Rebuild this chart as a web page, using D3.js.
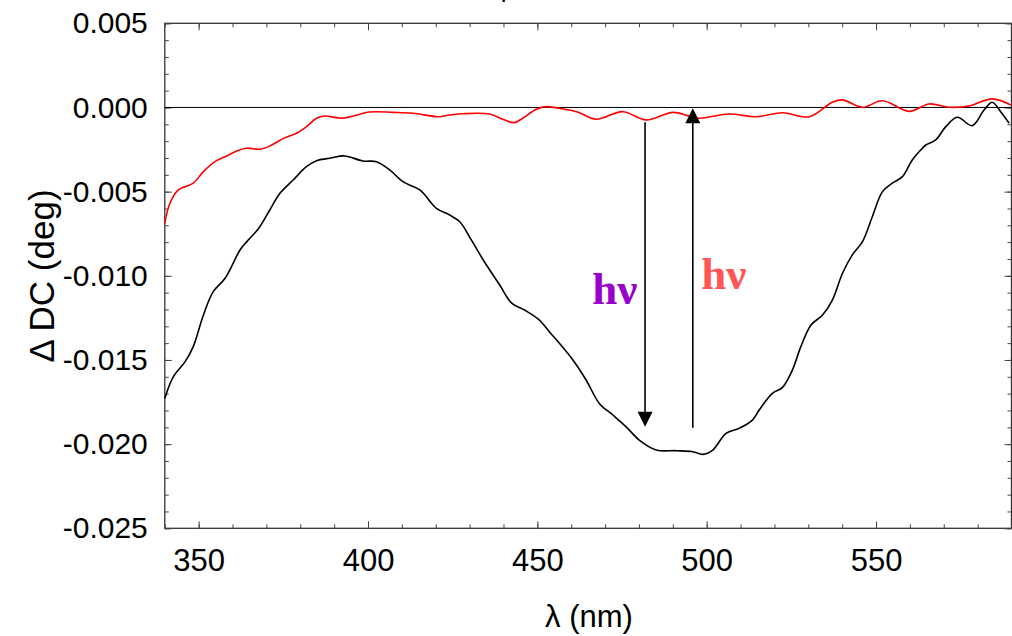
<!DOCTYPE html>
<html>
<head>
<meta charset="utf-8">
<script src="https://cdn.jsdelivr.net/npm/d3@7"></script>
<style>
  body { margin: 0; background: #fff; }
  svg { display: block; }
  .axis text { font-family: "Liberation Sans", Arial, sans-serif; fill: #000; }
  .axis path { display: none; }
  .axis line { stroke: #444; }
</style>
</head>
<body>
<svg id="chart" width="1012" height="636"></svg>
<script>
// wavelength (nm) and ΔDC (deg)
let redX = [340.0, 341.5, 344.0, 346.0, 348.4, 351.4, 354.8, 358.3, 361.2, 364.2, 368.1, 371.0,
    374.9, 378.9, 381.8, 384.8, 387.2, 392.2, 395.6, 400.5, 407.4, 413.3, 420.7, 424.1, 428.0,
    435.9, 439.8, 443.1, 445.7, 449.7, 452.6, 456.5, 460.5, 462.4, 467.4, 475.2, 482.1, 490.0,
    494.9, 497.8, 506.7, 514.5, 522.4, 530.3, 537.1, 540.1, 546.0, 551.9, 559.8, 565.7, 571.6,
    577.5, 584.3, 589.8];
let redY = [-0.00688, -0.00569, -0.00490, -0.00471, -0.00450, -0.00381, -0.00322, -0.00288,
    -0.00258, -0.00242, -0.00248, -0.00229, -0.00185, -0.00153, -0.00114, -0.00064, -0.00051,
    -0.00064, -0.00051, -0.00027, -0.00029, -0.00034, -0.00055, -0.00045, -0.00037, -0.00039,
    -0.00070, -0.00090, -0.00064, -0.00011, 0.00005, -0.00005, -0.00019, -0.00031, -0.00070,
    -0.00025, -0.00074, -0.00029, -0.00051, -0.00064, -0.00039, -0.00055, -0.00031, -0.00055,
    0.00031, 0.00045, 0.00001, 0.00040, -0.00023, 0.00021, 0.00001, 0.00009, 0.00051, 0.00015];

let blackX = [340.0, 342.5, 346.0, 348.4, 351.4, 354.3, 357.8, 362.2, 364.2, 367.8, 371.0, 374.0,
    377.9, 381.8, 384.8, 388.7, 393.1, 398.5, 402.5, 406.4, 410.3, 415.3, 420.2, 424.1, 427.1,
    430.5, 434.4, 438.9, 442.4, 446.2, 450.6, 453.6, 456.5, 460.5, 464.4, 468.3, 472.3, 476.2,
    480.1, 485.1, 491.0, 495.9, 498.8, 501.8, 505.7, 509.6, 513.5, 515.5, 519.4, 522.4, 525.3,
    527.8, 530.8, 534.2, 537.1, 540.1, 543.0, 546.0, 548.9, 551.9, 554.8, 557.8, 560.7, 563.2,
    564.7, 567.6, 570.6, 574.0, 578.4, 581.9, 584.3, 586.8, 589.3];
let blackY = [-0.01728, -0.01600, -0.01510, -0.01421, -0.01233, -0.01094, -0.01015, -0.00847,
    -0.00797, -0.00716, -0.00609, -0.00510, -0.00431, -0.00352, -0.00316, -0.00302, -0.00288,
    -0.00318, -0.00322, -0.00371, -0.00441, -0.00490, -0.00599, -0.00639, -0.00679, -0.00787,
    -0.00918, -0.01055, -0.01162, -0.01203, -0.01263, -0.01334, -0.01401, -0.01500, -0.01619,
    -0.01758, -0.01827, -0.01897, -0.01976, -0.02035, -0.02039, -0.02045, -0.02061, -0.02035,
    -0.01936, -0.01906, -0.01857, -0.01797, -0.01698, -0.01663, -0.01560, -0.01421, -0.01292,
    -0.01233, -0.01144, -0.00985, -0.00876, -0.00797, -0.00649, -0.00500, -0.00450, -0.00411,
    -0.00312, -0.00253, -0.00223, -0.00193, -0.00114, -0.00058, -0.00108, -0.00015, 0.00031,
    -0.00025, -0.00094];

let xMajor = [350, 400, 450, 500, 550];
let xMinor = d3.range(340, 591, 10);
let yMajor = [0.005, 0, -0.005, -0.01, -0.015, -0.02, -0.025];
let yMinor = d3.range(-25, 6, 1).map(v => v / 1000);

// the two hν arrows: x, start value, tip value
let arrows = [
    {x: 481.8, from: -0.00088, to: -0.01896},
    {x: 495.9, from: -0.01902, to: -0.00005}
];
let labels = [
    {x: 466.2, y: -0.01165, text: "hν", color: "#9900cc"},
    {x: 498.4, y: -0.01078, text: "hν", color: "#ff5555"}
];

let svg = d3.select("#chart");
let pLeft = 164.8, pRight = 1011.5, pTop = 23.3, pBottom = 528.3;

// plain hyphen for negatives, like the original
let fmt = d3.formatLocale({decimal: ".", thousands: ",", grouping: [3], currency: ["", ""], minus: "-"});

let x = d3.scaleLinear().domain([340, 590]).range([pLeft, pRight]);
let y = d3.scaleLinear().domain([-0.025, 0.005]).range([pBottom, pTop]);

// frame
svg.append("rect")
    .attr("x", pLeft).attr("y", pTop)
    .attr("width", pRight - pLeft).attr("height", pBottom - pTop)
    .style("fill", "none").style("stroke", "#333").style("stroke-width", 1.3);

// minor ticks on all sides
svg.append("g").attr("class", "axis").attr("transform", "translate(0," + pBottom + ")")
    .call(d3.axisBottom(x).tickValues(xMinor).tickSize(-4).tickFormat(""));
svg.append("g").attr("class", "axis").attr("transform", "translate(0," + pTop + ")")
    .call(d3.axisTop(x).tickValues(xMinor).tickSize(-4).tickFormat(""));
svg.append("g").attr("class", "axis").attr("transform", "translate(" + pLeft + ",0)")
    .call(d3.axisLeft(y).tickValues(yMinor).tickSize(-4).tickFormat(""));
svg.append("g").attr("class", "axis").attr("transform", "translate(" + pRight + ",0)")
    .call(d3.axisRight(y).tickValues(yMinor).tickSize(-4).tickFormat(""));

// major ticks + labels
let xb = svg.append("g").attr("class", "axis").attr("transform", "translate(0," + pBottom + ")")
    .call(d3.axisBottom(x).tickValues(xMajor).tickSize(-7).tickPadding(21).tickFormat(fmt.format("d")));
xb.selectAll("text").style("font-size", "31px");
svg.append("g").attr("class", "axis").attr("transform", "translate(0," + pTop + ")")
    .call(d3.axisTop(x).tickValues(xMajor).tickSize(-7).tickFormat(""));
let yl = svg.append("g").attr("class", "axis").attr("transform", "translate(" + pLeft + ",0)")
    .call(d3.axisLeft(y).tickValues(yMajor).tickSize(-7).tickPadding(17).tickFormat(fmt.format(".3f")));
yl.selectAll("text").style("font-size", "30px");
svg.append("g").attr("class", "axis").attr("transform", "translate(" + pRight + ",0)")
    .call(d3.axisRight(y).tickValues(yMajor).tickSize(-7).tickFormat(""));

// zero line
svg.append("line")
    .attr("x1", pLeft).attr("x2", pRight)
    .attr("y1", y(0)).attr("y2", y(0))
    .style("stroke", "#000").style("stroke-width", 1);

let line = d3.line()
    .x(d => x(d[0]))
    .y(d => y(d[1]))
    .curve(d3.curveCatmullRom.alpha(0.5));

svg.append("path")
    .datum(blackX.map((v, i) => [v, blackY[i]]))
    .attr("d", line)
    .style("fill", "none").style("stroke", "#000").style("stroke-width", 1.6);

svg.append("path")
    .datum(redX.map((v, i) => [v, redY[i]]))
    .attr("d", line)
    .style("fill", "none").style("stroke", "#ff0000").style("stroke-width", 1.6);

// arrows
for (let a of arrows) {
    let ax = x(a.x), y0 = y(a.from), y1 = y(a.to);
    let dir = y1 > y0 ? 1 : -1;
    svg.append("line")
        .attr("x1", ax).attr("x2", ax)
        .attr("y1", y0).attr("y2", y1 - dir * 10)
        .style("stroke", "#000").style("stroke-width", 1.6);
    svg.append("path")
        .attr("d", "M" + ax + "," + y1 + " L" + (ax - 7.5) + "," + (y1 - dir * 15)
            + " L" + (ax + 7.5) + "," + (y1 - dir * 15) + " Z")
        .style("fill", "#000");
}

svg.selectAll("text.hv")
    .data(labels)
    .enter()
    .append("text")
    .attr("class", "hv")
    .attr("x", d => x(d.x))
    .attr("y", d => y(d.y))
    .style("font-family", "'Liberation Serif', 'Times New Roman', serif")
    .style("font-weight", "bold")
    .style("font-size", "45px")
    .style("fill", d => d.color)
    .text(d => d.text);

// axis titles
svg.append("text")
    .attr("x", 589).attr("y", 627)
    .attr("text-anchor", "middle")
    .style("font-family", "'Liberation Sans', Arial, sans-serif")
    .style("font-size", "31px")
    .text("λ (nm)");

svg.append("text")
    .attr("transform", "translate(54,276) rotate(-90)")
    .attr("text-anchor", "middle")
    .style("font-family", "'Liberation Sans', Arial, sans-serif")
    .style("font-size", "35px")
    .text("Δ DC (deg)");

// title sits above the picture; only a descender shows
svg.append("text")
    .attr("x", 508).attr("y", -3)
    .attr("text-anchor", "middle")
    .style("font-family", "'Liberation Sans', Arial, sans-serif")
    .style("font-size", "26px")
    .text("p");
</script>
</body>
</html>
